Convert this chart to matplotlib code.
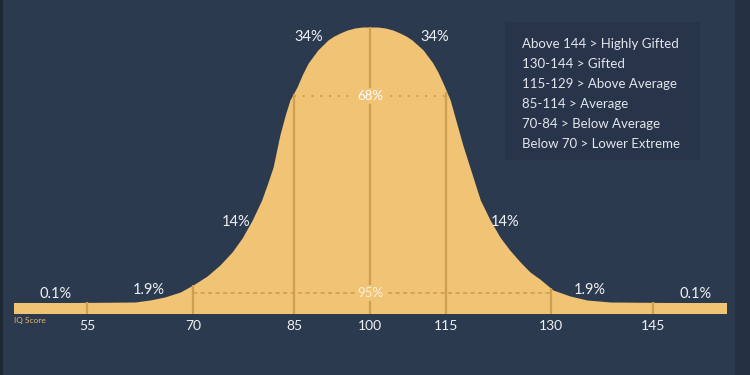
import numpy as np
import matplotlib
matplotlib.use("Agg")
import matplotlib.pyplot as plt
from matplotlib.patches import Rectangle

# colours
bg = "#2c3a4f"
gold = "#f0c375"
gold_dark = "#cf9f4e"
txt = "#eef0f3"

# bell curve outline (IQ score, height)
curve_iq = [44.7, 61.8, 63.9, 66.0, 68.2, 70.0, 72.1, 74.0, 75.8, 77.3, 78.8, 80.2, 81.1,
            81.9, 82.9, 83.7, 84.4, 85.6, 86.7, 87.8, 89.7, 91.7, 92.9, 94.1, 95.5,
            97.0, 98.5, 100.0, 101.5, 103.0, 104.5, 105.9, 107.1, 108.3, 110.5, 112.4,
            113.4, 114.4, 115.6, 116.4, 117.4, 118.4,
            119.9, 121.3, 122.7, 124.1, 125.6, 127.0, 128.4, 130.3, 132.8, 135.3,
            138.7, 155.9]
curve_h = [0, 1, 3, 6, 11, 18, 27, 38, 51, 65, 83, 103, 120,
           136, 168, 188, 203, 216, 229, 240, 253, 263, 267, 270, 273,
           275, 276, 276, 276, 275, 273, 270, 267, 263, 253, 240,
           231, 220, 203, 183, 158, 136,
           103, 83, 66, 53, 41, 31, 24, 13, 7, 3,
           1, 0]

iq_ticks = [55, 70, 85, 100, 115, 130, 145]

band_lo = [85, 70]
band_hi = [115, 130]
band_lab = ["68%", "95%"]
band_h = [207, 10]

pct_iq = [50.6, 63.8, 76.4, 88.0, 112.8, 123.4, 135.7, 151.2]
pct_h = [9, 13, 81, 266, 266, 81, 13, 9]
pct_lab = ["0.1%", "1.9%", "14%", "34%", "34%", "14%", "1.9%", "0.1%"]

legend_lines = ["Above 144 > Highly Gifted", "130-144 > Gifted", "115-129 > Above Average",
                "85-114 > Average", "70-84 > Below Average", "Below 70 > Lower Extreme"]

# picture is not linear in IQ: map IQ to horizontal pixel position
anchor_iq = [40, 55, 70, 85, 100, 115, 130, 145, 160]
anchor_px = [-19, 87, 193, 294, 370, 446, 551, 653, 755]

def fwd(v):
    return np.interp(v, anchor_iq, anchor_px, left=-19, right=755)

def inv(v):
    return np.interp(v, anchor_px, anchor_iq)

plt.rcParams['font.family'] = ['Lato', 'DejaVu Sans']

fig = plt.figure(figsize=(7.5, 3.75), dpi=100)
fig.patch.set_facecolor(bg)
ax = fig.add_axes([0, 0, 1, 1])
ax.set_facecolor(bg)
ax.set_xscale("function", functions=(fwd, inv))
ax.set_xlim(inv(0), inv(750))
ax.set_ylim(-72, 303)
ax.axis("off")

# base strip + curve
ax.fill_between([44.7, 155.9], -11, 0, color=gold, lw=0)
ax.fill_between(curve_iq, 0, curve_h, color=gold, lw=0)

# vertical guide lines up to the curve
for t in iq_ticks:
    top = np.interp(t, curve_iq, curve_h)
    ax.plot([t, t], [-11, top], color=gold_dark, lw=1.6, solid_capstyle="butt")

# 68 / 95 bands
ax.plot([band_lo[0], band_hi[0]], [band_h[0]] * 2, color=gold_dark, lw=1.4,
        ls=(0, (1, 3.5)))
ax.plot([band_lo[1], band_hi[1]], [band_h[1]] * 2, color=gold_dark, lw=1.2,
        ls=(0, (2.5, 2)))
for lab, h, c in zip(band_lab, band_h, ["white", "#fbf0dc"]):
    ax.text(100, h, lab, ha="center", va="center", color=c, fontsize=9.5,
            bbox=dict(facecolor=gold, edgecolor="none", pad=1.5))

# percentages
for x, h, lab in zip(pct_iq, pct_h, pct_lab):
    ax.text(x, h, lab, ha="center", va="center", color=txt, fontsize=10.5)

# tick labels
for t in iq_ticks:
    ax.text(t, -23, str(t), ha="center", va="center", color=txt, fontsize=10)
ax.text(inv(14), -18, "IQ Score", ha="left", va="center", color="#e2b56c", fontsize=6)

# legend box
fig.patches.append(Rectangle((505 / 750, 1 - 160 / 375), 195 / 750, 138 / 375,
                             transform=fig.transFigure, facecolor="#28344a",
                             edgecolor="none", zorder=0))
for i, line in enumerate(legend_lines):
    fig.text(522 / 750, 1 - (44 + 20 * i) / 375, line, ha="left", va="center",
             color="#e3e6eb", fontsize=9.5)

# dark edge strips
fig.patches.append(Rectangle((0, 0), 3 / 750, 1, transform=fig.transFigure,
                             facecolor="#1f2935", edgecolor="none"))
fig.patches.append(Rectangle((735 / 750, 0), 15 / 750, 1, transform=fig.transFigure,
                             facecolor="#253142", edgecolor="none"))

fig.savefig("out.png", dpi=100, facecolor=bg)
